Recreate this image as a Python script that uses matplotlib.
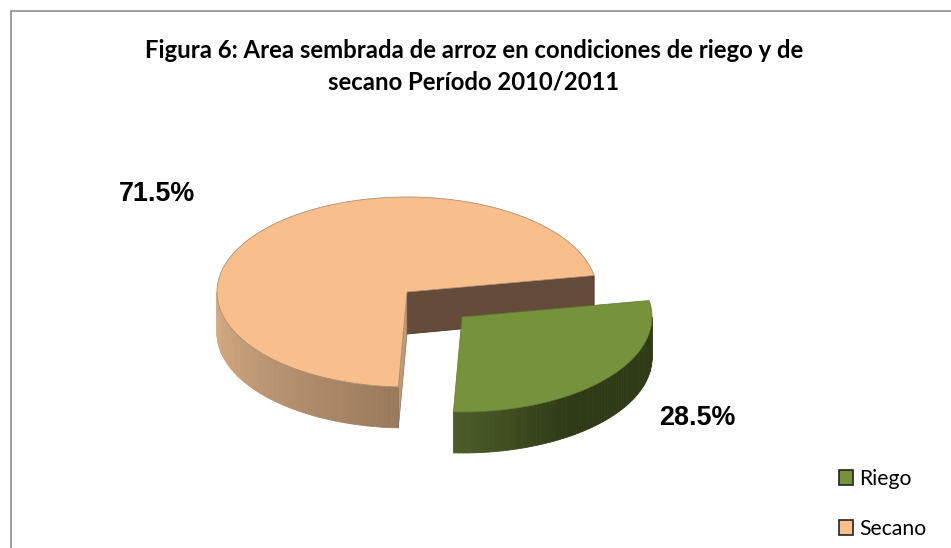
import numpy as np
import matplotlib
matplotlib.use("Agg")
import matplotlib.pyplot as plt
from matplotlib.patches import Polygon, Patch
from matplotlib.colors import to_rgb

categories = ["Riego", "Secano"]
values = [28.5, 71.5]
labels = ["28.5%", "71.5%"]
title = "Figura 6: Area sembrada de arroz en condiciones de riego y de\nsecano Período 2010/2011"

C_TOP = {"Riego": "#76933c", "Secano": "#f8be8c"}
START = 10.0     # angle at which the Riego slice starts (clockwise from there)
RX, RY, DEPTH = 190, 95, 41
CENTER_S = (407, 292)
CENTER_R = (462, 317)

fig = plt.figure(figsize=(9.51, 5.48), dpi=100)
ax = fig.add_axes([0, 0, 1, 1])
ax.set_xlim(0, 951); ax.set_ylim(548, 0); ax.axis("off")

def pt(c, t, dz=0):
    t = np.radians(t)
    return np.column_stack([c[0] + RX*np.cos(t), c[1] - RY*np.sin(t) + dz])

def lerp(a, b, f):
    a, b = np.array(to_rgb(a)), np.array(to_rgb(b))
    return tuple(a + (b-a)*f)

def side(c, t0, t1, col0, col1, n=80):
    ts = np.linspace(t0, t1, n+1)
    for i in range(n):
        p = np.vstack([pt(c, ts[i]), pt(c, ts[i+1]), pt(c, ts[i+1], DEPTH), pt(c, ts[i], DEPTH)])
        f = i/(n-1)
        ax.add_patch(Polygon(p, closed=True, fc=lerp(col0, col1, f), ec=lerp(col0, col1, f), lw=0.6))

span_r = 360*values[0]/sum(values)
r_end = START - span_r              # Riego: START -> r_end clockwise
s_start, s_end = START, START + 360*values[1]/sum(values)

# ----- Secano -----
apex = np.array([CENTER_S])
p_start = pt(CENTER_S, s_start)
ax.add_patch(Polygon(np.vstack([apex, p_start, p_start+[0, DEPTH], apex+[0, DEPTH+1]]),
                     closed=True, fc="#654b3a", ec="#4a3527", lw=0.6))
side(CENTER_S, 180, s_end, "#d9ae86", "#9a7a5c")
p_end = pt(CENTER_S, s_end)
ax.add_patch(Polygon(np.vstack([apex, p_end, p_end+[0, DEPTH], apex+[0, DEPTH+1]]),
                     closed=True, fc="#c29a74", ec="#8c6e52", lw=0.5))
ts = np.linspace(s_start, s_end, 300)
ax.add_patch(Polygon(np.vstack([apex, pt(CENTER_S, ts)]), closed=True,
                     fc=C_TOP["Secano"], ec="#b08e70", lw=0.6))

# ----- Riego -----
side(CENTER_R, r_end, -55, "#4d5d29", "#2f3a16", n=25)
side(CENTER_R, -55, 0, "#2f3a16", "#2f3a16", n=40)
ts = np.linspace(r_end, START, 150)
ax.add_patch(Polygon(np.vstack([[CENTER_R], pt(CENTER_R, ts)]), closed=True,
                     fc=C_TOP["Riego"], ec="#5f7830", lw=0.5))

# ----- labels -----
ax.text(157, 194, labels[1], fontsize=19.4, fontweight="bold", family="Liberation Sans",
        ha="center", va="center", color="black")
ax.text(697, 418, labels[0], fontsize=19.4, fontweight="bold", family="Liberation Sans",
        ha="center", va="center", color="black")

# ----- title -----
ax.text(474, 66.5, title, fontsize=17.2, fontweight="bold", family="Lato",
        ha="center", va="center", linespacing=1.47, color="black")

# ----- frame -----
ax.plot([11, 11, 951], [548, 11, 11], color="#8c8c8c", lw=1.2, solid_joinstyle="miter", clip_on=False)

# ----- legend -----
handles = [Patch(fc=C_TOP[c], ec="#222222", lw=1.2, label=c) for c in categories]
leg = ax.legend(handles=handles, loc="upper left", bbox_to_anchor=(839/951, 1-469/548),
                frameon=False, prop={"family": "Lato", "size": 15.2},
                handlelength=0.66, handleheight=0.66, handletextpad=0.28,
                labelspacing=1.42, borderpad=0, borderaxespad=0)

fig.savefig("out.png", dpi=100)
